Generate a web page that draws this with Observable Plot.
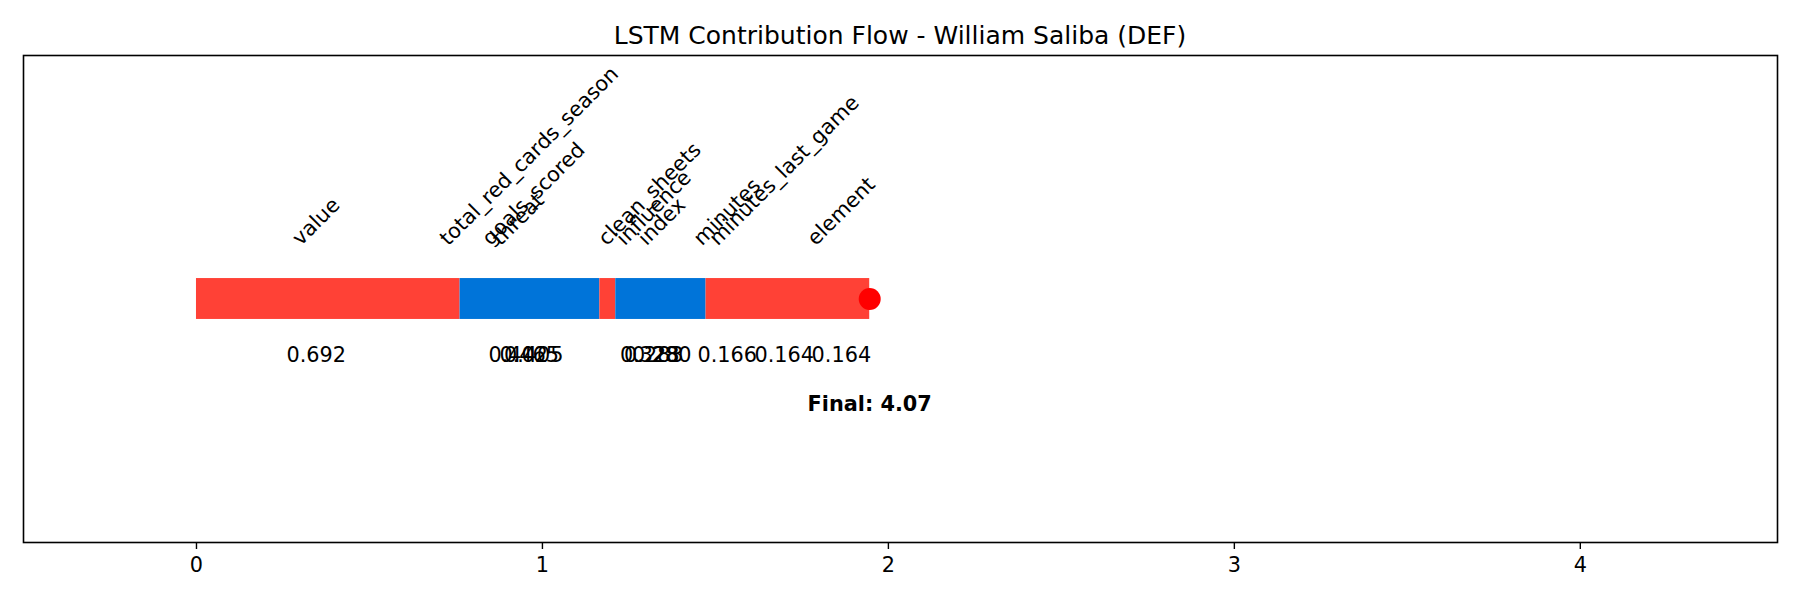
<!DOCTYPE html>
<html><head><meta charset="utf-8">
<script src="https://cdn.jsdelivr.net/npm/d3@7"></script>
<script src="https://cdn.jsdelivr.net/npm/@observablehq/plot@0.6"></script>
<style>
body{margin:0;background:#fff;font-family:"DejaVu Sans",sans-serif;}
#title{width:1800px;height:50px;box-sizing:border-box;padding-top:23px;text-align:center;font-size:25px;line-height:25px;color:#000;}
</style></head><body>
<div id="title">LSTM Contribution Flow - William Saliba (DEF)</div>
<div id="chart"></div>
<script>
// Features in plotting order and their (absolute) contributions
const features = ["value","total_red_cards_season","goals_scored","threat","clean_sheets","influence","index","minutes","minutes_last_game","element"];
const contributions = [0.692,0.465,0.405,0.402,0.328,0.283,0.280,0.166,0.164,0.164];
// centre of each feature's step along the flow (data units)
const labelX = [0.346,0.962,0.975,0.930,1.310,1.322,1.345,1.534,1.699,1.864];
// visible bar segments of the flow
const segStart = [0,0.762,1.166,1.212,1.473];
const segEnd   = [0.762,1.166,1.212,1.473,1.946];
const segSign  = [1,-1,1,-1,1];
const flowEnd = 1.946;
const finalValue = 4.07;
const xTicks = [0,1,2,3,4];

const RED = "#FF4136", BLUE = "#0074D9";
const FS = 20.8;
const ctx = document.createElement("canvas").getContext("2d");
ctx.font = `${FS}px "DejaVu Sans"`;
const lineH = FS * 1.164;

const idx = features.map((_, i) => i);
const nameMarks = idx.map(i => {
  const w = ctx.measureText(features[i]).width;
  const dy = -0.7071 * (w + lineH) / 2;
  return Plot.text([i], {x: j => labelX[j], y: () => 0.3, text: j => features[j], rotate: -45,
    textAnchor: "middle", lineAnchor: "middle", dy, fontSize: FS, fill: "black"});
});

const chart = Plot.plot({
  width: 1800, height: 550,
  marginTop: 5, marginBottom: 58, marginLeft: 23, marginRight: 23,
  style: {fontFamily: "DejaVu Sans", fontSize: "20.8px", color: "black", background: "white"},
  x: {domain: [-0.5, finalValue + 0.5]},
  y: {domain: [-1.5, 1.5], axis: null},
  color: {type: "identity"},
  marks: [
    Plot.rect(segStart.map((_, i) => i), {x1: i => segStart[i], x2: i => segEnd[i], y1: () => -0.126, y2: () => 0.126,
      fill: i => segSign[i] > 0 ? RED : BLUE}),
    Plot.dot([flowEnd], {x: d => d, y: () => 0, r: 11, fill: "red"}),
    ...nameMarks,
    Plot.text(idx, {x: i => labelX[i], y: () => -0.3, text: i => contributions[i].toFixed(3), lineAnchor: "top", fontSize: FS, fill: "black"}),
    Plot.text([finalValue], {x: () => flowEnd, y: () => -0.6, text: d => `Final: ${d.toFixed(2)}`, lineAnchor: "top", fontWeight: "bold", fontSize: FS, fill: "black"}),
    Plot.frame({stroke: "black", strokeWidth: 1.6}),
    Plot.axisX({ticks: xTicks, tickFormat: d3.format("d"), tickSize: 7, tickPadding: 8, label: null, fontSize: FS, strokeWidth: 1.4})
  ]
});
document.getElementById("chart").appendChild(chart);
</script>
</body></html>
